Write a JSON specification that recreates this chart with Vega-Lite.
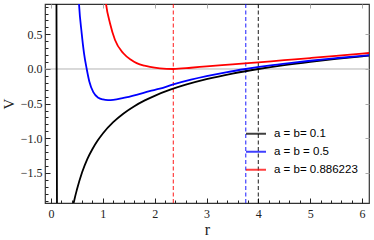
{
  "$schema": "https://vega.github.io/schema/vega-lite/v6.json",
  "width": 324,
  "height": 199,
  "autosize": {"type": "none"},
  "padding": {"left": 45, "top": 4, "right": 5, "bottom": 37},
  "config": {
    "view": {"stroke": "#333", "strokeWidth": 1.2},
    "axis": {
      "domain": false,
      "grid": false,
      "labelFont": "Liberation Serif",
      "labelFontSize": 12,
      "labelColor": "#222",
      "tickColor": "#222",
      "titleFont": "Liberation Serif",
      "titleFontSize": 16,
      "titleFontWeight": "normal",
      "titleColor": "#222"
    }
  },
  "data": {
    "values": [
      {"s": "a = b= 0.1", "r": 0.03, "V": 4},
      {"s": "a = b= 0.1", "r": 0.104, "V": 1.3},
      {"s": "a = b= 0.1", "r": 0.116, "V": -2.3},
      {"s": "a = b= 0.1", "r": 0.2, "V": -5},
      {"s": "a = b= 0.1", "r": 0.3, "V": -3.3},
      {"s": "a = b= 0.1", "r": 0.38, "V": -2.3},
      {"s": "a = b= 0.1", "r": 0.42, "V": -2.0},
      {"s": "a = b= 0.1", "r": 0.45, "V": -1.89},
      {"s": "a = b= 0.1", "r": 0.5, "V": -1.74},
      {"s": "a = b= 0.1", "r": 0.6, "V": -1.49},
      {"s": "a = b= 0.1", "r": 0.7, "V": -1.3},
      {"s": "a = b= 0.1", "r": 0.8, "V": -1.154},
      {"s": "a = b= 0.1", "r": 0.9, "V": -1.033},
      {"s": "a = b= 0.1", "r": 1.0, "V": -0.93},
      {"s": "a = b= 0.1", "r": 1.2, "V": -0.767},
      {"s": "a = b= 0.1", "r": 1.4, "V": -0.641},
      {"s": "a = b= 0.1", "r": 1.6, "V": -0.54},
      {"s": "a = b= 0.1", "r": 1.8, "V": -0.457},
      {"s": "a = b= 0.1", "r": 2.0, "V": -0.387},
      {"s": "a = b= 0.1", "r": 2.3, "V": -0.299},
      {"s": "a = b= 0.1", "r": 2.6, "V": -0.227},
      {"s": "a = b= 0.1", "r": 3.0, "V": -0.147},
      {"s": "a = b= 0.1", "r": 3.5, "V": -0.066},
      {"s": "a = b= 0.1", "r": 4.0, "V": 0},
      {"s": "a = b= 0.1", "r": 4.5, "V": 0.056},
      {"s": "a = b= 0.1", "r": 5.0, "V": 0.104},
      {"s": "a = b= 0.1", "r": 5.5, "V": 0.146},
      {"s": "a = b= 0.1", "r": 6.0, "V": 0.183},
      {"s": "a = b= 0.1", "r": 6.2, "V": 0.197},
      {"s": "a = b = 0.5", "r": 0.45, "V": 3.2},
      {"s": "a = b = 0.5", "r": 0.5, "V": 1.6},
      {"s": "a = b = 0.5", "r": 0.54, "V": 0.94},
      {"s": "a = b = 0.5", "r": 0.592, "V": 0.515},
      {"s": "a = b = 0.5", "r": 0.637, "V": 0.227},
      {"s": "a = b = 0.5", "r": 0.689, "V": 0.0},
      {"s": "a = b = 0.5", "r": 0.739, "V": -0.18},
      {"s": "a = b = 0.5", "r": 0.816, "V": -0.335},
      {"s": "a = b = 0.5", "r": 0.913, "V": -0.415},
      {"s": "a = b = 0.5", "r": 1.0, "V": -0.44},
      {"s": "a = b = 0.5", "r": 1.1, "V": -0.449},
      {"s": "a = b = 0.5", "r": 1.2, "V": -0.446},
      {"s": "a = b = 0.5", "r": 1.4, "V": -0.418},
      {"s": "a = b = 0.5", "r": 1.65, "V": -0.372},
      {"s": "a = b = 0.5", "r": 1.9, "V": -0.32},
      {"s": "a = b = 0.5", "r": 2.1, "V": -0.284},
      {"s": "a = b = 0.5", "r": 2.36, "V": -0.222},
      {"s": "a = b = 0.5", "r": 2.7, "V": -0.154},
      {"s": "a = b = 0.5", "r": 3.0, "V": -0.103},
      {"s": "a = b = 0.5", "r": 3.4, "V": -0.044},
      {"s": "a = b = 0.5", "r": 3.757, "V": 0},
      {"s": "a = b = 0.5", "r": 4.2, "V": 0.048},
      {"s": "a = b = 0.5", "r": 4.6, "V": 0.085},
      {"s": "a = b = 0.5", "r": 5.0, "V": 0.119},
      {"s": "a = b = 0.5", "r": 5.5, "V": 0.156},
      {"s": "a = b = 0.5", "r": 6.0, "V": 0.19},
      {"s": "a = b = 0.5", "r": 6.2, "V": 0.202},
      {"s": "a = b= 0.886223", "r": 0.95, "V": 2.2},
      {"s": "a = b= 0.886223", "r": 1.0, "V": 1.4},
      {"s": "a = b= 0.886223", "r": 1.061, "V": 0.94},
      {"s": "a = b= 0.886223", "r": 1.138, "V": 0.66},
      {"s": "a = b= 0.886223", "r": 1.235, "V": 0.418},
      {"s": "a = b= 0.886223", "r": 1.395, "V": 0.227},
      {"s": "a = b= 0.886223", "r": 1.55, "V": 0.13},
      {"s": "a = b= 0.886223", "r": 1.653, "V": 0.085},
      {"s": "a = b= 0.886223", "r": 1.8, "V": 0.048},
      {"s": "a = b= 0.886223", "r": 1.91, "V": 0.03},
      {"s": "a = b= 0.886223", "r": 2.1, "V": 0.01},
      {"s": "a = b= 0.886223", "r": 2.36, "V": 0.0},
      {"s": "a = b= 0.886223", "r": 2.7, "V": 0.018},
      {"s": "a = b= 0.886223", "r": 3.0, "V": 0.038},
      {"s": "a = b= 0.886223", "r": 3.5, "V": 0.066},
      {"s": "a = b= 0.886223", "r": 4.0, "V": 0.096},
      {"s": "a = b= 0.886223", "r": 4.5, "V": 0.127},
      {"s": "a = b= 0.886223", "r": 5.0, "V": 0.158},
      {"s": "a = b= 0.886223", "r": 5.5, "V": 0.19},
      {"s": "a = b= 0.886223", "r": 6.0, "V": 0.223},
      {"s": "a = b= 0.886223", "r": 6.2, "V": 0.235}
    ]
  },
  "resolve": {"axis": {"x": "independent", "y": "independent"}},
  "layer": [
    {
      "data": {"values": [{"y0": 0}]},
      "mark": {"type": "rule", "color": "#b4b4b4", "strokeWidth": 1},
      "encoding": {
        "y": {
          "field": "y0", "type": "quantitative",
          "scale": {"domain": [-1.934, 0.938], "nice": false, "zero": false},
          "axis": {
            "orient": "left", "title": null, "labels": false, "tickSize": -3,
            "values": [-1.9, -1.8, -1.7, -1.6, -1.4, -1.3, -1.2, -1.1, -0.9, -0.8, -0.7, -0.6, -0.4, -0.3, -0.2, -0.1, 0.1, 0.2, 0.3, 0.4, 0.6, 0.7, 0.8, 0.9]
          }
        }
      }
    },
    {
      "data": {"values": [
        {"r": 2.36, "s": "a = b= 0.886223"},
        {"r": 3.757, "s": "a = b = 0.5"},
        {"r": 4.0, "s": "a = b= 0.1"}
      ]},
      "mark": {"type": "rule", "strokeDash": [4, 2.5], "strokeWidth": 1.2, "opacity": 0.75},
      "encoding": {
        "x": {
          "field": "r", "type": "quantitative",
          "scale": {"domain": [-0.116, 6.135], "nice": false, "zero": false},
          "axis": {
            "orient": "bottom", "title": null, "labels": false, "tickSize": -3,
            "values": [0.2, 0.4, 0.6, 0.8, 1.2, 1.4, 1.6, 1.8, 2.2, 2.4, 2.6, 2.8, 3.2, 3.4, 3.6, 3.8, 4.2, 4.4, 4.6, 4.8, 5.2, 5.4, 5.6, 5.8]
          }
        },
        "color": {
          "field": "s", "type": "nominal",
          "scale": {"domain": ["a = b= 0.1", "a = b = 0.5", "a = b= 0.886223"], "range": ["#000000", "#0000ff", "#ff0000"]}
        }
      }
    },
    {
      "transform": [{"filter": "datum.s != 'a = b= 0.886223'"}],
      "mark": {"type": "line", "interpolate": "monotone", "strokeWidth": 1.8, "clip": true},
      "encoding": {
        "x": {
          "field": "r", "type": "quantitative",
          "scale": {"domain": [-0.116, 6.135], "nice": false, "zero": false},
          "axis": {"orient": "bottom", "title": "r", "values": [0, 1, 2, 3, 4, 5, 6], "tickSize": -5, "labelPadding": 10, "titlePadding": 2}
        },
        "y": {
          "field": "V", "type": "quantitative",
          "scale": {"domain": [-1.934, 0.938], "nice": false, "zero": false},
          "axis": {"orient": "left", "title": "V", "values": [-1.5, -1, -0.5, 0, 0.5], "format": ".1f", "tickSize": -5, "labelPadding": 8, "titlePadding": 4, "titleFontSize": 15}
        },
        "color": {
          "field": "s", "type": "nominal",
          "scale": {"domain": ["a = b= 0.1", "a = b = 0.5", "a = b= 0.886223"], "range": ["#000000", "#0000ff", "#ff0000"]},
          "legend": {
            "title": null, "orient": "none", "legendX": 200, "legendY": 118.7,
            "symbolType": "stroke", "symbolSize": 400, "symbolStrokeWidth": 2, "symbolDash": [1, 0],
            "labelFont": "Liberation Sans", "labelFontSize": 11.5, "labelColor": "#000",
            "labelOffset": 7, "rowPadding": 1, "padding": 0
          }
        }
      }
    },
    {
      "transform": [{"filter": "datum.s == 'a = b= 0.886223'"}],
      "mark": {"type": "line", "interpolate": "monotone", "strokeWidth": 1.8, "clip": true},
      "encoding": {
        "x": {
          "field": "r", "type": "quantitative",
          "scale": {"domain": [-0.116, 6.135], "nice": false, "zero": false},
          "axis": {"orient": "top", "title": null, "labels": false, "values": [0, 1, 2, 3, 4, 5, 6], "tickSize": -4, "tickColor": "#aaa"}
        },
        "y": {
          "field": "V", "type": "quantitative",
          "scale": {"domain": [-1.934, 0.938], "nice": false, "zero": false},
          "axis": {"orient": "right", "title": null, "labels": false, "values": [-1.5, -1, -0.5, 0, 0.5], "tickSize": -4, "tickColor": "#aaa"}
        },
        "color": {
          "field": "s", "type": "nominal",
          "scale": {"domain": ["a = b= 0.1", "a = b = 0.5", "a = b= 0.886223"], "range": ["#000000", "#0000ff", "#ff0000"]}
        }
      }
    }
  ]
}
